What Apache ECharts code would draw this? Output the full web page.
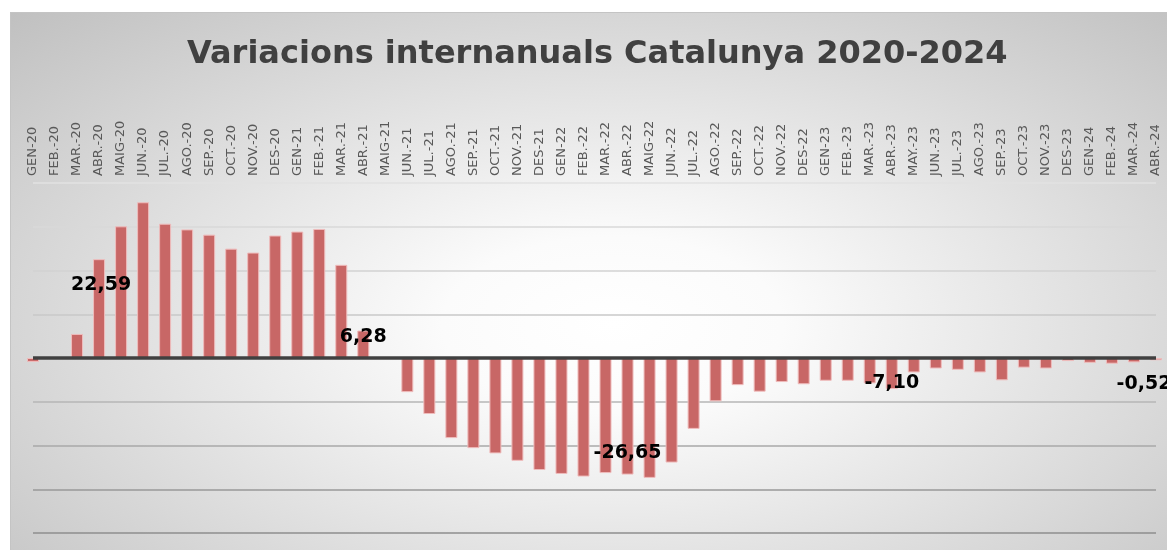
<!DOCTYPE html>
<html>
<head>
<meta charset="utf-8">
<title>Variacions internanuals Catalunya 2020-2024</title>
<script src="https://cdn.jsdelivr.net/npm/echarts@6/dist/echarts.min.js"></script>
<style>
    html, body {
        margin: 0;
        padding: 0;
        background: #ffffff;
    }
    #bg {
        position: absolute;
        left: 10px;
        top: 12px;
        width: 1157px;
        height: 538px;
        border-top: 1px solid #c4c4c4;
        border-left: 1px solid #c4c4c4;
        background: radial-gradient(farthest-corner at 52% 58%, #ffffff 0%, #fbfbfb 20%, #c0c0c0 100%);
    }
    #chart {
        position: absolute;
        left: 0;
        top: 0;
        width: 1167px;
        height: 550px;
    }
</style>
</head>
<body>
<div id="bg"></div>
<div id="chart"></div>
<script>
(function() {

    var months = [
        'GEN-20', 'FEB.-20', 'MAR.-20', 'ABR.-20', 'MAIG-20', 'JUN.-20', 'JUL.-20', 'AGO.-20', 'SEP.-20', 'OCT.-20', 'NOV.-20', 'DES-20',
        'GEN-21', 'FEB.-21', 'MAR.-21', 'ABR.-21', 'MAIG-21', 'JUN.-21', 'JUL.-21', 'AGO.-21', 'SEP.-21', 'OCT.-21', 'NOV.-21', 'DES-21',
        'GEN-22', 'FEB.-22', 'MAR.-22', 'ABR.-22', 'MAIG-22', 'JUN.-22', 'JUL.-22', 'AGO.-22', 'SEP.-22', 'OCT.-22', 'NOV.-22', 'DES-22',
        'GEN-23', 'FEB.-23', 'MAR.-23', 'ABR.-23', 'MAY.-23', 'JUN.-23', 'JUL.-23', 'AGO.-23', 'SEP.-23', 'OCT.-23', 'NOV.-23', 'DES-23',
        'GEN-24', 'FEB.-24', 'MAR.-24', 'ABR.-24'
    ];

    var variacio = [
        -0.9, -0.1, 5.5, 22.59, 30.1, 35.6, 30.7, 29.4, 28.2, 25.0, 24.1, 28.0,
        28.9, 29.5, 21.3, 6.28, 0, -7.8, -12.8, -18.3, -20.6, -21.8, -23.5, -25.6,
        -26.5, -27.1, -26.3, -26.65, -27.4, -23.9, -16.2, -9.9, -6.2, -7.7, -5.5, -6.0,
        -5.2, -5.2, -5.8, -7.10, -3.3, -2.4, -2.7, -3.3, -5.1, -2.2, -2.4, -0.7,
        -1.1, -1.3, -1.0, -0.52
    ];

    // only the april values carry a label
    var labelled = ['ABR.-20', 'ABR.-21', 'ABR.-22', 'ABR.-23', 'ABR.-24'];
    var labelOffsets = [[2, -24], [0, -7], [0, 37], [0, 10], [-12, 25]];

    var data = variacio.map(function(v, i) {
        var k = labelled.indexOf(months[i]);
        if (k < 0) {
            return v;
        }
        return {
            value: v,
            label: {
                show: true,
                position: 'inside',
                offset: labelOffsets[k]
            }
        };
    });

    var myChart = echarts.init(document.getElementById('chart'));

    myChart.setOption({
        backgroundColor: 'transparent',
        animation: false,
        title: {
            text: 'Variacions internanuals Catalunya 2020-2024',
            left: 182,
            top: 34,
            textStyle: {
                fontFamily: 'DejaVu Sans',
                fontSize: 32,
                fontWeight: 'bold',
                color: '#404040'
            }
        },
        grid: {
            left: 33,
            right: 11,
            top: 183,
            bottom: 17
        },
        xAxis: {
            type: 'category',
            data: months,
            position: 'top',
            boundaryGap: false,
            axisLine: { show: false },
            axisTick: { show: false },
            splitLine: { show: false },
            axisLabel: {
                interval: 0,
                rotate: 90,
                margin: 7,
                fontFamily: 'DejaVu Sans',
                fontSize: 13,
                color: '#595959'
            }
        },
        yAxis: {
            type: 'value',
            min: -40,
            max: 40,
            interval: 10,
            axisLine: { show: false },
            axisTick: { show: false },
            axisLabel: { show: false },
            splitLine: {
                show: true,
                lineStyle: {
                    width: 1.5,
                    color: ['#8e8e8e', '#989898', '#a8a8a8', '#b6b6b6', '#404040', '#c8c8c8', '#d2d2d2', '#d8d8d8', '#e2e2e2']
                }
            }
        },
        series: [{
            type: 'bar',
            data: data,
            barWidth: 12,
            clip: true,
            itemStyle: {
                color: '#c86766',
                borderColor: '#efbcbc',
                borderWidth: 1
            },
            label: {
                show: false,
                fontFamily: 'DejaVu Sans',
                fontSize: 19,
                fontWeight: 'bold',
                color: '#000000',
                formatter: function(p) {
                    return p.value.toFixed(2).replace('.', ',');
                }
            },
            // zero line
            markLine: {
                silent: true,
                symbol: 'none',
                label: { show: false },
                lineStyle: { color: '#404040', width: 3.5, type: 'solid' },
                data: [{ yAxis: 0 }]
            }
        }]
    });

})();
</script>
</body>
</html>
